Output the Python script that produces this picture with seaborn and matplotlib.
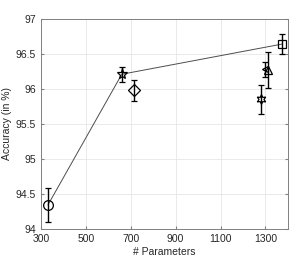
import numpy as np
import pandas as pd
import matplotlib
matplotlib.use('Agg')
import matplotlib.pyplot as plt
import seaborn as sns

# model results: parameters, accuracy, std
params = [331, 660, 716, 1279, 1300, 1310, 1372]
acc = [94.34, 96.21, 95.98, 95.85, 96.28, 96.27, 96.64]
err = [0.24, 0.11, 0.15, 0.21, 0.11, 0.26, 0.145]
markers = ['o', '*', 'D', (6, 1, 0), '<', '^', 's']
msizes = [7, 8, 6, 7, 5, 6, 6]

# pareto front
front_x = [331, 660, 1372]
front_y = [94.34, 96.21, 96.64]

sns.set_style('whitegrid')
plt.rcParams['font.family'] = ['Liberation Sans', 'DejaVu Sans']

fig, ax = plt.subplots(figsize=(2.99, 2.60), dpi=100)
df = pd.DataFrame({'params': front_x, 'acc': front_y})
sns.lineplot(data=df, x='params', y='acc', ax=ax, color='0.3', lw=0.7, sort=False)

for x, y, e, m, s in zip(params, acc, err, markers, msizes):
    ax.errorbar(x, y, yerr=e, marker=m, ms=s, mfc='none', mec='black', mew=0.9,
                color='black', ecolor='black', elinewidth=1.0, capsize=2.5, capthick=1.0)

ax.set_xlim(300, 1400)
ax.set_ylim(94, 97)
ax.set_xticks(np.arange(300, 1301, 200))
ax.set_yticks(np.arange(94, 97.01, 0.5))
ax.set_yticklabels(['94', '94.5', '95', '95.5', '96', '96.5', '97'])
ax.set_xlabel('# Parameters', fontsize=7.5, labelpad=2)
ax.set_ylabel('Accuracy (in %)', fontsize=7.5, labelpad=3)
ax.tick_params(labelsize=7.5, direction='in', length=2, color='0.5',
               left=True, bottom=True, right=True, top=False, labelcolor='0.15')
ax.tick_params(axis='x', pad=4)
ax.tick_params(axis='y', pad=3.5)
ax.grid(True, color='0.9', lw=0.6)
for sp in ax.spines.values():
    sp.set_color('0.5')
    sp.set_linewidth(0.7)

fig.subplots_adjust(left=0.137, right=0.963, top=0.927, bottom=0.12)
fig.savefig('out.png', dpi=100, facecolor='white')
